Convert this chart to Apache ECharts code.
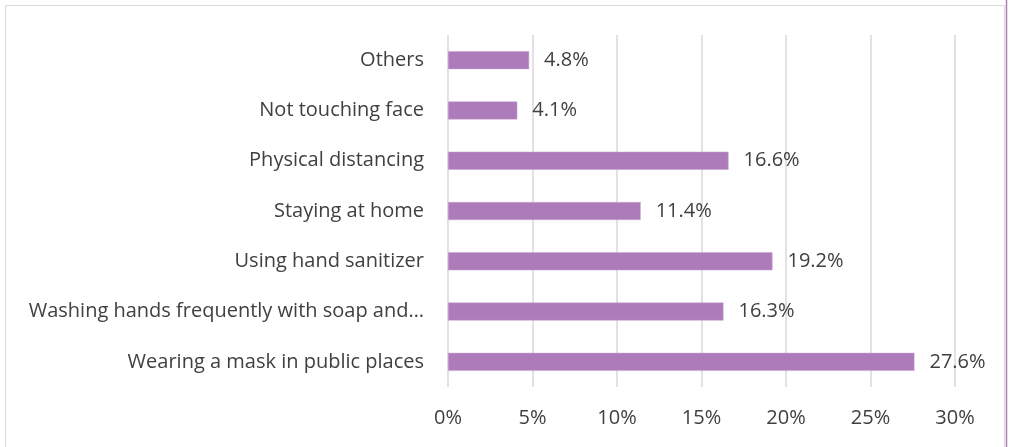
<!DOCTYPE html>
<html>
<head>
<meta charset="utf-8">
<style>
  html, body { margin: 0; padding: 0; background: #ffffff; }
  #chart { width: 1011px; height: 447px; }
</style>
<script src="https://cdn.jsdelivr.net/npm/echarts@6/dist/echarts.min.js"></script>
</head>
<body>
<div id="chart"></div>
<script>
// Preventive practices, share of responses (%), listed bottom to top
const categories = [
  'Wearing a mask in public places',
  'Washing hands frequently with soap and\u2026',
  'Using hand sanitizer',
  'Staying at home',
  'Physical distancing',
  'Not touching face',
  'Others'
];
const shares = [27.6, 16.3, 19.2, 11.4, 16.6, 4.1, 4.8];
const xTicks = [0, 5, 10, 15, 20, 25, 30];

const FONT = 'Open Sans';
const TEXT = '#404040';

const chart = echarts.init(document.getElementById('chart'), null, { renderer: 'canvas' });

chart.setOption({
  animation: false,
  backgroundColor: '#ffffff',
  graphic: [
    {
      type: 'rect',
      shape: { x: 5.5, y: 5.5, width: 999, height: 460 },
      style: { fill: 'none', stroke: '#d9d9d9', lineWidth: 1 }
    },
    {
      type: 'line',
      shape: { x1: 1006.5, y1: 0, x2: 1006.5, y2: 447 },
      style: { stroke: '#b07cb6', lineWidth: 1.5 }
    }
  ],
  grid: { left: 448, right: 56, top: 35, bottom: 60, containLabel: false },
  xAxis: {
    type: 'value',
    min: xTicks[0],
    max: xTicks[xTicks.length - 1],
    interval: 5,
    axisLine: { show: false },
    axisTick: { show: false },
    splitLine: { show: true, lineStyle: { color: '#d9d9d9', width: 1.5 } },
    axisLabel: {
      formatter: v => v + '%',
      color: TEXT,
      fontFamily: FONT,
      fontSize: 20,
      margin: 21
    }
  },
  yAxis: {
    type: 'category',
    data: categories,
    axisLine: { show: false },
    axisTick: { show: false },
    axisLabel: {
      color: TEXT,
      fontFamily: FONT,
      fontSize: 20,
      margin: 24
    }
  },
  series: [
    {
      type: 'bar',
      data: shares,
      barWidth: 18,
      itemStyle: { color: '#ad7bb9', borderColor: '#c9a3d1', borderWidth: 0.5 },
      label: {
        show: true,
        position: 'right',
        distance: 15,
        formatter: p => p.value.toFixed(1) + '%',
        color: TEXT,
        fontFamily: FONT,
        fontSize: 20
      }
    }
  ]
});
</script>
</body>
</html>
